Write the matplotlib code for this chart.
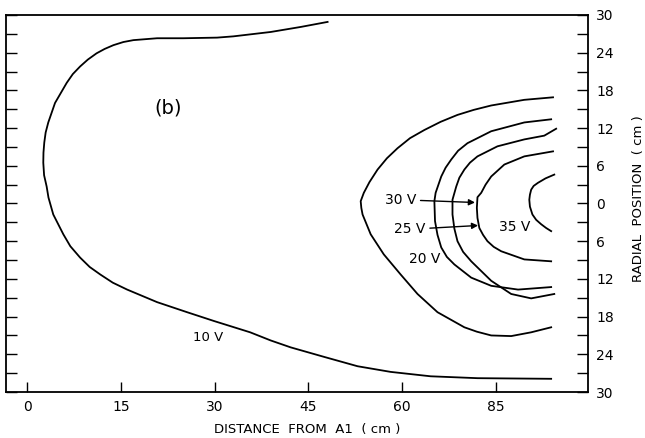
import matplotlib
matplotlib.use("Agg")
import matplotlib.pyplot as plt
import numpy as np

# equipotential lines (x = distance from A1, y = radial position, cm)
v10_x = [48.1, 43.8, 39.0, 33.0, 30.4, 25.0, 20.8, 17.0, 15.4, 13.8, 12.4, 11.1, 9.7, 8.46, 7.3, 6.32,
         4.45, 3.37, 2.95, 2.73, 2.6, 2.57, 2.7, 3.11, 3.40, 4.17, 5.78, 6.9, 8.46, 10.0, 11.7, 13.7,
         16.0, 20.8, 25.6, 29.9, 35.7, 39.0, 42.2, 47.5, 52.9, 58.2, 64.6, 72.1, 83.9]
v10_y = [28.9, 28.1, 27.3, 26.6, 26.4, 26.3, 26.3, 26.0, 25.7, 25.2, 24.6, 23.9, 22.9, 21.8, 20.6, 19.2,
         16.0, 12.9, 11.3, 9.7, 8.1, 6.5, 4.5, 2.7, 0.95, -1.75, -4.9, -6.8, -8.6, -10.1, -11.3, -12.6,
         -13.7, -15.7, -17.3, -18.7, -20.5, -21.8, -22.9, -24.4, -25.9, -26.8, -27.5, -27.8, -27.9]

v15_x = [84.2, 79.6, 74.3, 71.5, 68.9, 66.2, 63.6, 61.3, 59.3, 57.6, 56.1, 54.8, 53.9, 53.4, 53.5, 53.7,
         55.0, 57.1, 59.8, 62.5, 65.7, 70.0, 72.0, 74.3, 77.5, 80.7, 83.9]
v15_y = [16.9, 16.5, 15.6, 14.9, 14.1, 13.0, 11.7, 10.4, 8.8, 7.2, 5.4, 3.4, 1.7, 0.37, -0.7, -1.75,
         -4.9, -8.1, -11.3, -14.4, -17.3, -19.7, -20.4, -21.0, -21.1, -20.5, -19.7]

v20_x = [83.9, 79.6, 74.3, 70.5, 69.0, 67.9, 67.0, 66.3, 65.4, 65.2, 65.3, 65.7, 66.3, 67.2, 68.4, 71.1,
         74.3, 78.6, 83.9]
v20_y = [13.4, 12.9, 11.5, 9.6, 8.4, 7.0, 5.7, 4.3, 1.7, 0.37, -2.8, -5.0, -7.0, -8.5, -9.7, -11.8,
         -13.1, -13.7, -13.3]

v25_x = [84.7, 82.8, 79.6, 75.3, 72.1, 70.9, 70.0, 69.2, 68.7, 68.1, 68.1, 68.4, 68.9, 69.8, 71.1, 74.3,
         77.5, 80.7, 84.4]
v25_y = [11.9, 10.8, 10.2, 9.1, 7.5, 6.5, 5.4, 4.1, 2.7, 0.6, -1.75, -4.0, -6.0, -7.7, -9.2, -12.3,
         -14.4, -15.1, -14.4]

v30_x = [84.2, 79.6, 76.4, 74.3, 73.4, 72.7, 72.1, 72.0, 72.1, 72.4, 73.0, 73.7, 74.7, 75.9, 79.6, 83.9]
v30_y = [8.3, 7.5, 6.2, 4.3, 3.0, 1.7, 1.0, -0.7, -2.3, -3.9, -5.0, -6.0, -6.9, -7.6, -8.9, -9.2]

v35_x = [84.4, 83.0, 81.8, 81.1, 80.7, 80.5, 80.4, 80.5, 80.9, 81.5, 82.3, 83.1, 83.9]
v35_y = [4.6, 4.0, 3.3, 2.8, 2.2, 1.4, 0.6, -0.5, -1.75, -2.6, -3.3, -3.9, -4.4]

x_ticks = [0, 15, 30, 45, 60, 75]
x_ticklabels = ["0", "15", "30", "45", "60", "85"]
y_ticks = np.arange(-30, 31, 3)

fig = plt.figure(figsize=(6.45, 4.38), dpi=100)
ax = fig.add_axes([6 / 645, 1 - 392 / 438, 582 / 645, 377 / 438])

for xs, ys in [(v10_x, v10_y), (v15_x, v15_y), (v20_x, v20_y),
               (v25_x, v25_y), (v30_x, v30_y), (v35_x, v35_y)]:
    ax.plot(xs, ys, color="black", lw=1.3, solid_joinstyle="round")

ax.set_xlim(-3.4, 89.8)
ax.set_ylim(-30, 30)

ax.set_xticks(x_ticks)
ax.set_xticklabels(x_ticklabels)
ax.set_yticks(y_ticks)
ax.set_yticklabels([str(abs(v)) if v % 6 == 0 else "" for v in y_ticks])
ax.tick_params(axis="x", direction="in", length=7, width=1, bottom=True, top=False,
               labelsize=10, pad=6)
ax.tick_params(axis="y", direction="in", length=8, width=1, left=True, right=True,
               labelleft=False, labelright=True, labelsize=10, pad=6)
for s in ax.spines.values():
    s.set_linewidth(1.3)

ax.set_xlabel("DISTANCE  FROM  A1  ( cm )", fontsize=9.5)
ax.xaxis.set_label_coords(0.517, -0.082)
ax.yaxis.set_label_position("right")
ax.set_ylabel("RADIAL  POSITION  ( cm )", fontsize=9.5)
ax.yaxis.set_label_coords(1.075, 0.512)

ax.text(22.6, 15.2, "(b)", fontsize=14, ha="center", va="center")
ax.text(28.9, -21.3, "10 V", fontsize=9.5, ha="center", va="center")
ax.text(63.7, -8.9, "20 V", fontsize=10, ha="center", va="center")
ax.text(78.1, -3.8, "35 V", fontsize=10, ha="center", va="center")
arrow = dict(arrowstyle="-|>", color="black", lw=1, mutation_scale=9, shrinkA=1, shrinkB=0)
ax.annotate("30 V", xy=(71.7, 0.16), xytext=(59.8, 0.6), fontsize=10,
            ha="center", va="center", arrowprops=arrow)
ax.annotate("25 V", xy=(72.2, -3.5), xytext=(61.3, -4.1), fontsize=10,
            ha="center", va="center", arrowprops=arrow)

fig.savefig("out.png", dpi=100)
